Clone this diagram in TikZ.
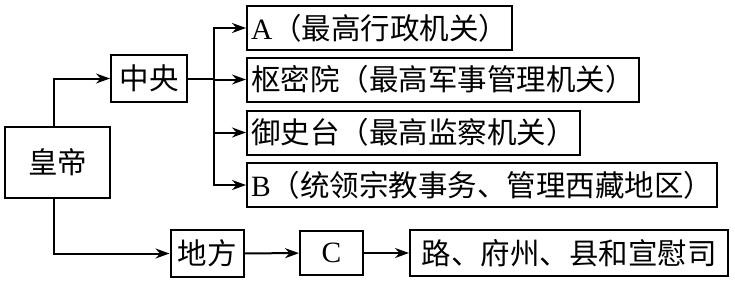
\documentclass[tikz,border=0pt]{standalone}
\usepackage{fontspec}
\setmainfont{Liberation Serif}
\newfontfamily\cjk{Noto Sans CJK SC}
\usetikzlibrary{arrows.meta,calc}

\tikzset{
  box/.style={draw, line width=2pt, inner xsep=4pt, inner ysep=0pt,
    minimum height=44pt, font=\fontsize{29.5}{31}\selectfont},
  arr/.style={line width=2pt, -{Stealth[length=14pt,width=10pt]}},
  link/.style={line width=2pt}
}

\begin{document}
\begin{tikzpicture}[x=1pt,y=-1pt]

    \useasboundingbox (0,0) rectangle (735,285);

    % --- Bal oldal ---
    \node[box, minimum width=105pt, minimum height=71pt] (huangdi) at (57.5,162.5) {\cjk 皇帝};
    \node[box, minimum width=76pt, minimum height=47pt] (zhongyang) at (149,78.5) {\cjk 中央};
    \node[box, minimum width=73pt, minimum height=47pt] (difang) at (207,253.5) {\cjk 地方};

    % --- Központi szervek ---
    \node[box, anchor=west] (A) at (246,28) {A{\cjk （最高行政机关）}};
    \node[box, anchor=west] (shumi) at (246,79.5) {\cjk 枢密院（最高军事管理机关）};
    \node[box, anchor=west] (yushi) at (246,132.5) {\cjk 御史台（最高监察机关）};
    \node[box, anchor=west] (B) at (246,185) {B{\cjk （统领宗教事务、管理西藏地区）}};

    % --- Helyi szervek ---
    \node[box, minimum width=63pt] (C) at (331.5,253) {C};
    \node[box, minimum width=318pt, minimum height=46pt] (lu) at (569,253) {\cjk 路、府州、县和宣慰司};

    % Nyilak
    \draw[arr] ([xshift=-4pt]huangdi.north) |- (zhongyang.west);
    \draw[arr] ([xshift=-4pt]huangdi.south) |- (difang.west);

    \coordinate (fork) at ($(zhongyang.east)+(26,0)$);
    \draw[link] (zhongyang.east) -- (fork);
    \foreach \t in {A, shumi, yushi, B}
        \draw[arr] (fork) |- (\t.west);

    \draw[arr] (difang) -- (C);
    \draw[arr] (C) -- (lu);

\end{tikzpicture}
\end{document}
